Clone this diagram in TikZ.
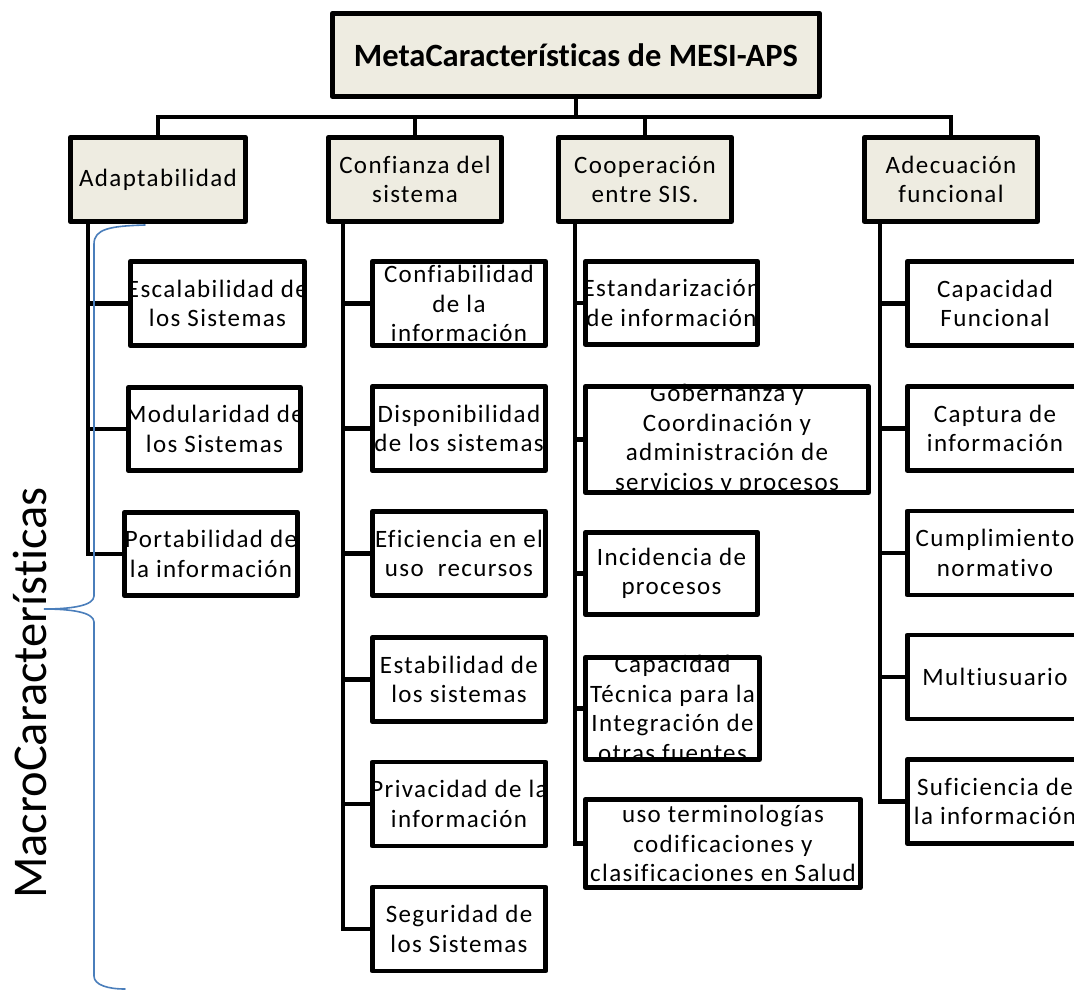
\documentclass[tikz,border=0pt]{standalone}
\usepackage{fontspec}
\setmainfont{Carlito}[Ligatures=CommonOff]
\newfontfamily\cellfamily{Carlito}[LetterSpace=5.5, Ligatures=CommonOff]
\usetikzlibrary{calc}

\definecolor{headfill}{RGB}{238,236,225}
\definecolor{bracecol}{RGB}{74,126,187}

\tikzset{
  cellbox/.style={draw=none, fill=white, inner sep=0pt},
  headbox/.style={draw=none, fill=headfill, inner sep=0pt},
  border/.style={draw=black, line width=4.5pt, line join=round},
  celltext/.style={inner sep=0pt, align=center,
    font={\cellfamily\fontsize{25}{29.5}\selectfont}},
  conn/.style={draw=black, line width=4.5pt, line cap=rect, line join=miter},
  bracestyle/.style={draw=bracecol, line width=1.6pt, line cap=round}
}

% #1 name, #2 style, #3 cx, #4 cy, #5 width, #6 height, #7 text
\newcommand\cellnode[7]{%
  \node[#2, minimum width=#5, minimum height=#6] (#1) at (#3,#4) {};
  \node[celltext] (#1text) at (#1.center) {#7};
  \draw[border] (#1.south west) rectangle (#1.north east);
}

\begin{document}
\begin{tikzpicture}[x=1pt, y=-1pt]
\useasboundingbox (0,0) rectangle (1074,991);
\fill[white] (0,0) rectangle (1074,991);
\clip (0,0) rectangle (1074,991);

% root
\node[headbox, minimum width=487, minimum height=83] (top) at (576,55) {};
\node[inner sep=0pt, font={\bfseries\fontsize{32.5}{38}\selectfont}] (toptext) at (top.center) {MetaCaracterísticas de MESI-APS};
\draw[border] (top.south west) rectangle (top.north east);

% headers
\cellnode{h1}{headbox}{158}{179.5}{175}{84}{Adaptabilidad}
\cellnode{h2}{headbox}{415}{179.5}{173}{84}{Confianza del\\sistema}
\cellnode{h3}{headbox}{645}{179.5}{173}{84}{Cooperación\\entre SIS.}
\cellnode{h4}{headbox}{951}{179.5}{173}{84}{Adecuación\\funcional}

% bus
\coordinate (bus) at (576,117);
\draw[conn] (top.south) -- (bus);
\draw[conn] (h1.north) |- (bus) -| (h4.north);
\draw[conn] (h2.north) -- (h2.north |- bus);
\draw[conn] (h3.north) -- (h3.north |- bus);

% column 1
\cellnode{a1}{cellbox}{217.5}{303.5}{174}{84}{Escalabilidad de\\los Sistemas}
\cellnode{a2}{cellbox}{214.5}{429}{172}{83}{Modularidad de\\los Sistemas}
\cellnode{a3}{cellbox}{211}{554}{173}{83}{Portabilidad de\\la información}
\coordinate (t1) at (88,0);
\draw[conn] (h1.south -| t1) |- (a3.west);
\foreach \c in {a1,a2} \draw[conn] (t1 |- \c.west) -- (\c.west);

% column 2
\cellnode{b1}{cellbox}{459}{303.5}{173}{84}{Confiabilidad\\de la\\información}
\cellnode{b2}{cellbox}{459}{428.5}{173}{84}{Disponibilidad\\de los sistemas}
\cellnode{b3}{cellbox}{459}{553.5}{173}{84}{Eficiencia en el\\uso~ recursos}
\cellnode{b4}{cellbox}{459}{679.5}{173}{84}{Estabilidad de\\los sistemas}
\cellnode{b5}{cellbox}{459}{804}{173}{84}{Privacidad de la\\información}
\cellnode{b6}{cellbox}{459}{929}{173}{84}{Seguridad de\\los Sistemas}
\coordinate (t2) at (343,0);
\draw[conn] (h2.south -| t2) |- (b6.west);
\foreach \c in {b1,b2,b3,b4,b5} \draw[conn] (t2 |- \c.west) -- (\c.west);

% column 3
\cellnode{c1}{cellbox}{671.5}{303}{172}{83}{Estandarización\\de información}
\cellnode{c2}{cellbox}{727}{439.5}{283}{106}{Gobernanza y\\Coordinación y\\administración de\\servicios y procesos}
\cellnode{c3}{cellbox}{671.5}{573.5}{172}{82}{Incidencia de\\procesos}
\cellnode{c4}{cellbox}{672.5}{708.5}{174}{102}{Capacidad\\Técnica para la\\Integración de\\otras fuentes}
\cellnode{c5}{cellbox}{723}{843.5}{275}{88}{uso terminologías\\codificaciones y\\clasificaciones en Salud}
\coordinate (t3) at (575,0);
\draw[conn] (h3.south -| t3) |- (c5.west);
\foreach \c in {c1,c2,c3,c4} \draw[conn] (t3 |- \c.west) -- (\c.west);

% column 4
\cellnode{d1}{cellbox}{995}{303.5}{175}{84}{Capacidad\\Funcional}
\cellnode{d2}{cellbox}{995}{428.5}{175}{84}{Captura de\\información}
\cellnode{d3}{cellbox}{995}{553}{175}{84}{Cumplimiento\\normativo}
\cellnode{d4}{cellbox}{995}{677}{175}{84}{Multiusuario}
\cellnode{d5}{cellbox}{995}{801.5}{175}{84}{Suficiencia de\\la información}
\coordinate (t4) at (880,0);
\draw[conn] (h4.south -| t4) |- (d5.west);
\foreach \c in {d1,d2,d3,d4} \draw[conn] (t4 |- \c.west) -- (\c.west);

% side brace and its label
\coordinate (bracetop) at (145,225);
\coordinate (bracetip) at (44,609);
\coordinate (bracebot) at (125,989);
\draw[bracestyle] (bracetop) .. controls (110,226) and (94,229) .. (94,244)
  -- (94,596) .. controls (94,606) and (70,609) .. (bracetip)
  .. controls (70,609) and (94,612) .. (94,622)
  -- (94,976) .. controls (94,985) and (108,989) .. (bracebot);
\node[inner sep=0pt, rotate=90, anchor=base, font={\fontsize{48.5}{56}\selectfont}] (macro) at (46,693) {MacroCaracterísticas};
\end{tikzpicture}
\end{document}
